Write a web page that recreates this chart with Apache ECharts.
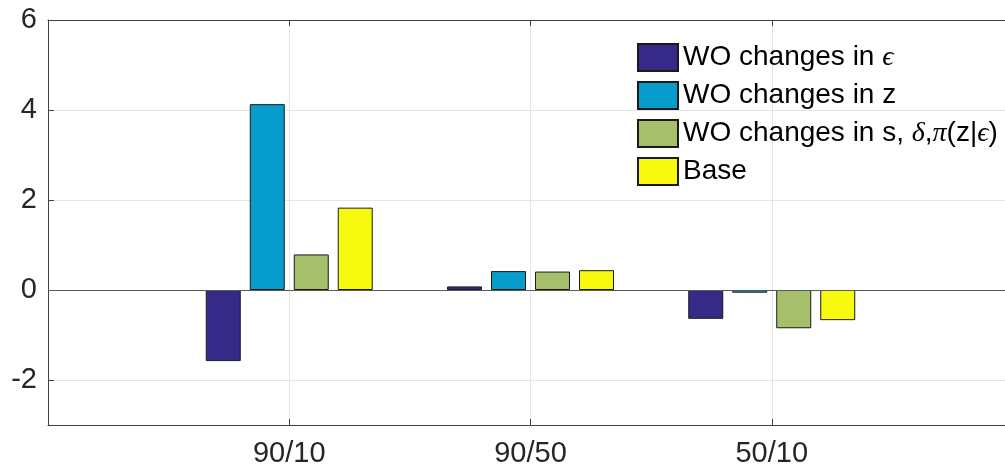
<!DOCTYPE html>
<html>
<head>
<meta charset="utf-8">
<script src="https://cdn.jsdelivr.net/npm/echarts@6/dist/echarts.min.js"></script>
<style>html,body{margin:0;padding:0;background:#fff;overflow:hidden;width:1005px;height:472px;}#c{width:1016px;height:472px;}</style>
</head>
<body>
<div id="c"></div>
<script>
var categories = ['90/10', '90/50', '50/10'];
var seriesNames = ['WO changes in ϵ', 'WO changes in z', 'WO changes in s, δ,π(z|ϵ)', 'Base'];
var legendRich = [
  '{a|WO changes in }{m|ϵ}',
  '{a|WO changes in z}',
  '{a|WO changes in s, }{m|δ}{a|,}{m|π}{a|(z|}{m|ϵ}{a|)}',
  '{a|Base}'
];
var woEps  = [-1.58, 0.08, -0.64];
var woZ    = [4.13, 0.42, -0.06];
var woSdp  = [0.79, 0.41, -0.85];
var base   = [1.83, 0.44, -0.67];
var yTicks = [-2, 0, 2, 4, 6];
var colors = ['#352a87', '#069dcc', '#a6bf6b', '#f7fa0f'];

var values = [woEps, woZ, woSdp, base];
var FONT = 'Liberation Sans';
var series = values.map(function (vals, i) {
  var s = {
    name: seriesNames[i],
    type: 'bar',
    barWidth: 35,
    barGap: '25.7%',
    data: vals.map(function (v, j) { return [j + 1, v]; }),
    itemStyle: { color: colors[i], borderColor: '#1a1a1a', borderWidth: 1 },
    emphasis: { disabled: true }
  };
  if (i === 0) {
    s.markLine = {
      silent: true, symbol: 'none', label: { show: false },
      lineStyle: { color: '#5a5a5a', width: 1.2, type: 'solid' },
      data: [{ yAxis: 0 }], animation: false
    };
  }
  return s;
});

var chart = echarts.init(document.getElementById('c'));
chart.setOption({
  animation: false,
  backgroundColor: '#fff',
  grid: { left: 48, right: 1, top: 20, bottom: 47 },
  legend: {
    orient: 'vertical', left: 637, top: 43, padding: 0,
    itemWidth: 40, itemHeight: 27, itemGap: 9,
    icon: 'rect',
    data: seriesNames,
    formatter: function (name) { return legendRich[seriesNames.indexOf(name)]; },
    textStyle: {
      color: '#000', fontSize: 28, fontFamily: FONT,
      rich: {
        a: { fontSize: 28, fontFamily: FONT, color: '#000' },
        m: { fontSize: 28, fontFamily: 'Liberation Serif', fontStyle: 'italic', color: '#000' }
      }
    }
  },
  xAxis: [{
    type: 'value', min: 0, max: 4, interval: 1, position: 'bottom',
    axisLine: { show: true, onZero: false, lineStyle: { color: '#404040', width: 1 } },
    axisTick: { show: true, inside: true, length: 6, lineStyle: { color: '#404040' } },
    axisLabel: {
      fontSize: 29, fontFamily: FONT, color: '#262626', margin: 14,
      formatter: function (v) { return (v >= 1 && v <= 3) ? categories[v - 1] : ''; }
    },
    splitLine: { show: true, lineStyle: { color: '#e5e5e5', width: 1 } }
  }, {
    type: 'value', min: 0, max: 4, interval: 1, position: 'top',
    axisLine: { show: true, onZero: false, lineStyle: { color: '#404040', width: 1 } },
    axisTick: { show: true, inside: true, length: 6, lineStyle: { color: '#404040' } },
    axisLabel: { show: false },
    splitLine: { show: false }
  }],
  yAxis: {
    type: 'value', min: -3, max: 6,
    axisLine: { show: true, onZero: false, lineStyle: { color: '#404040', width: 1 } },
    axisTick: { show: true, inside: true, length: 6, customValues: yTicks, lineStyle: { color: '#404040' } },
    axisLabel: { fontSize: 29, fontFamily: FONT, color: '#262626', margin: 11, customValues: yTicks },
    splitLine: { show: true, lineStyle: { color: '#e5e5e5', width: 1 } }
  },
  series: series
});
</script>
</body>
</html>
